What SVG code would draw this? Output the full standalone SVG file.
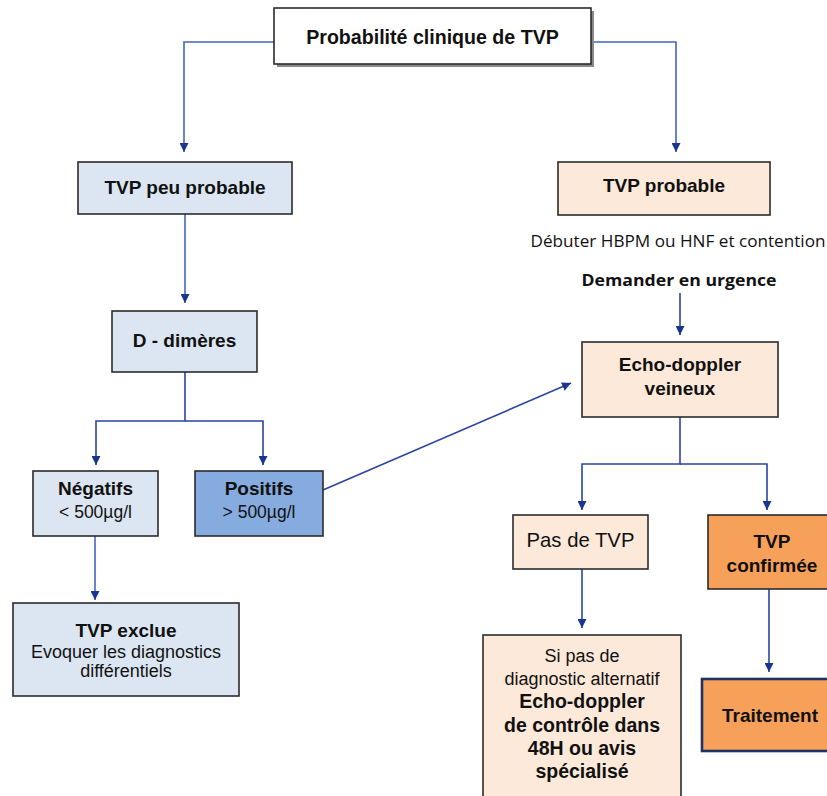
<svg xmlns="http://www.w3.org/2000/svg" width="827" height="796" viewBox="0 0 827 796">
<defs>
<marker id="ah" viewBox="0 0 10 10" refX="10" refY="5" markerWidth="9" markerHeight="9" markerUnits="userSpaceOnUse" orient="auto">
<path d="M0,0 L10,5 L0,10 z" fill="#1a3590"/>
</marker>
</defs>
<style>
.box{stroke:#2b2b2b;stroke-width:1.6}
.blue{fill:#dce6f2}
.dblue{fill:#86abdf}
.peach{fill:#fde9d9}
.orange{fill:#f7a05a}
.b{font-family:"Liberation Sans",Arial,sans-serif;font-weight:bold;font-size:19px;fill:#111;text-anchor:middle}
.r{font-family:"Liberation Sans",Arial,sans-serif;font-size:18px;fill:#111;text-anchor:middle}
.c{font-family:"Open Sans","Liberation Sans",sans-serif;fill:#111;text-anchor:middle}
.conn path{fill:none;stroke:#2a46a0;stroke-width:1.6}
.conn path.lt{stroke:#4466bb}
</style>
<rect width="827" height="796" fill="#ffffff"/>
<g id="connectors" class="conn">
<path class="lt" d="M274,42 H184 V152" marker-end="url(#ah)"/>
<path class="lt" d="M591,42 H676 V152" marker-end="url(#ah)"/>
<path class="lt" d="M185,214 V303" marker-end="url(#ah)"/>
<path d="M185,372 V421 H96 V465" marker-end="url(#ah)"/>
<path d="M185,421 H263 V465" marker-end="url(#ah)"/>
<path d="M323,490 L571,383" marker-end="url(#ah)"/>
<path d="M680,293 V335" marker-end="url(#ah)"/>
<path d="M680,417 V464 H582 V510" marker-end="url(#ah)"/>
<path d="M680,464 H767 V510" marker-end="url(#ah)"/>
<path d="M582,569 V628" marker-end="url(#ah)"/>
<path d="M769,589 V672" marker-end="url(#ah)"/>
<path class="lt" d="M95,536 V600" marker-end="url(#ah)"/>
</g>
<g id="n-top">
<rect x="277" y="11" width="317" height="56" fill="#8a8a8a"/>
<rect x="274" y="8" width="317" height="56" fill="#ffffff" class="box"/>
<text x="432.5" y="44" class="b" style="font-size:19.6px">Probabilité clinique de TVP</text>
</g>
<g id="n-peu">
<rect x="78" y="162" width="214" height="52" class="box blue"/>
<text x="185" y="194" class="b">TVP peu probable</text>
</g>
<g id="n-ddim">
<rect x="112" y="311" width="145" height="61" class="box blue"/>
<text x="184.5" y="347" class="b">D - dimères</text>
</g>
<g id="n-prob">
<rect x="558" y="162" width="212" height="53" class="box peach"/>
<text x="664" y="192" class="b">TVP probable</text>
</g>
<g id="n-debuter">
<text x="678" y="247" class="c" style="font-size:15.5px" textLength="295" lengthAdjust="spacingAndGlyphs">Débuter HBPM ou HNF et contention</text>
<text x="679" y="286" class="c" style="font-size:16.5px;font-weight:bold" textLength="195" lengthAdjust="spacingAndGlyphs">Demander en urgence</text>
</g>
<g id="n-echo">
<rect x="582" y="342" width="196" height="75" class="box peach"/>
<text x="680" y="371" class="b">Echo-doppler</text>
<text x="680" y="395" class="b">veineux</text>
</g>
<g id="n-neg">
<rect x="33" y="471" width="125" height="65" class="box blue"/>
<text x="95.5" y="495" class="b">Négatifs</text>
<text x="95.5" y="518" class="r" style="font-size:17.5px">&lt; 500µg/l</text>
</g>
<g id="n-pos">
<rect x="195" y="471" width="128" height="65" class="box dblue"/>
<text x="259" y="495" class="b">Positifs</text>
<text x="259" y="518" class="r" style="font-size:17.5px">&gt; 500µg/l</text>
</g>
<g id="n-exclue">
<rect x="13" y="603" width="226" height="93" class="box blue"/>
<text x="126" y="637" class="b">TVP exclue</text>
<text x="126" y="658" class="r">Evoquer les diagnostics</text>
<text x="126" y="677" class="r">différentiels</text>
</g>
<g id="n-pas">
<rect x="513" y="515" width="135" height="54" class="box peach"/>
<text x="580.5" y="547" class="r" style="font-size:20.3px">Pas de TVP</text>
</g>
<g id="n-conf">
<rect x="708" y="515" width="130" height="74" class="box orange"/>
<text x="772" y="548" class="b">TVP</text>
<text x="772" y="572" class="b">confirmée</text>
</g>
<g id="n-trait">
<rect x="702" y="679" width="140" height="72" fill="#f7a05a" stroke="#1f3264" stroke-width="2.6"/>
<text x="770" y="722" class="b">Traitement</text>
</g>
<g id="n-sipas">
<rect x="483" y="635" width="198" height="180" class="box peach"/>
<text x="582" y="662" class="r">Si pas de</text>
<text x="582" y="685" class="r">diagnostic alternatif</text>
<text x="582" y="708" class="b" style="font-size:19.5px">Echo-doppler</text>
<text x="582" y="732" class="b" style="font-size:19.5px">de contrôle dans</text>
<text x="582" y="755" class="b" style="font-size:19.5px">48H ou avis</text>
<text x="582" y="778" class="b" style="font-size:19.5px">spécialisé</text>
</g>
</svg>
